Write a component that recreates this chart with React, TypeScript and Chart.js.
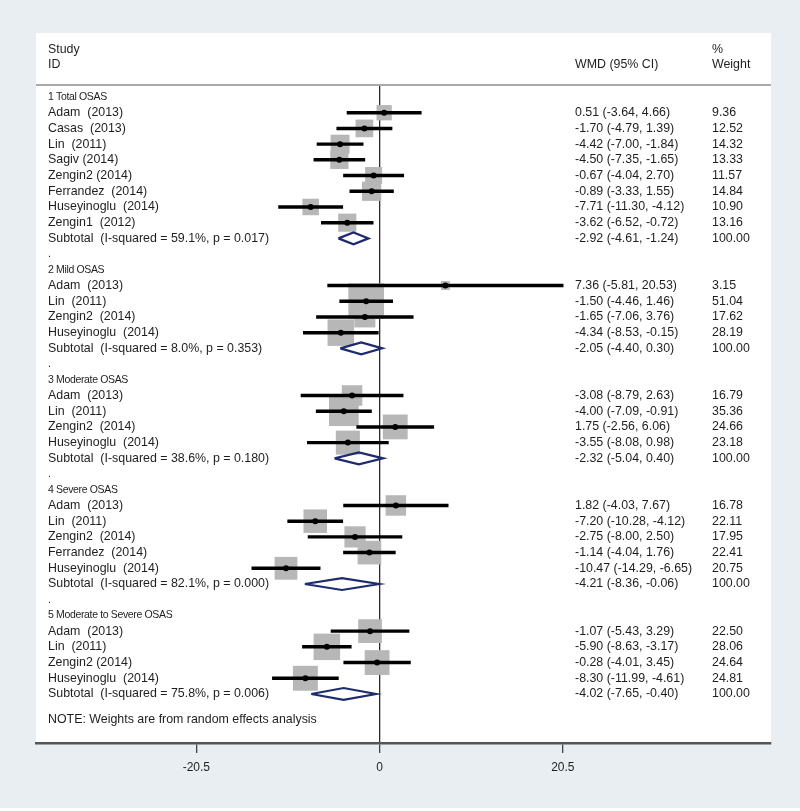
import React, { useEffect, useRef } from "react";
import { Chart, registerables } from "chart.js";

Chart.register(...registerables);

// ---------------- DATA ----------------
const groupTitles = [
  "1 Total OSAS",
  "2 Mild OSAS",
  "3 Moderate OSAS",
  "4 Severe OSAS",
  "5 Moderate to Severe OSAS",
];

const studyNames = [
  ["Adam  (2013)", "Casas  (2013)", "Lin  (2011)", "Sagiv (2014)", "Zengin2 (2014)", "Ferrandez  (2014)", "Huseyinoglu  (2014)", "Zengin1  (2012)"],
  ["Adam  (2013)", "Lin  (2011)", "Zengin2  (2014)", "Huseyinoglu  (2014)"],
  ["Adam  (2013)", "Lin  (2011)", "Zengin2  (2014)", "Huseyinoglu  (2014)"],
  ["Adam  (2013)", "Lin  (2011)", "Zengin2  (2014)", "Ferrandez  (2014)", "Huseyinoglu  (2014)"],
  ["Adam  (2013)", "Lin  (2011)", "Zengin2 (2014)", "Huseyinoglu  (2014)"],
];

const studyEstimates = [
  [0.51, -1.7, -4.42, -4.5, -0.67, -0.89, -7.71, -3.62],
  [7.36, -1.5, -1.65, -4.34],
  [-3.08, -4.0, 1.75, -3.55],
  [1.82, -7.2, -2.75, -1.14, -10.47],
  [-1.07, -5.9, -0.28, -8.3],
];

const studyLower = [
  [-3.64, -4.79, -7.0, -7.35, -4.04, -3.33, -11.3, -6.52],
  [-5.81, -4.46, -7.06, -8.53],
  [-8.79, -7.09, -2.56, -8.08],
  [-4.03, -10.28, -8.0, -4.04, -14.29],
  [-5.43, -8.63, -4.01, -11.99],
];

const studyUpper = [
  [4.66, 1.39, -1.84, -1.65, 2.7, 1.55, -4.12, -0.72],
  [20.53, 1.46, 3.76, -0.15],
  [2.63, -0.91, 6.06, 0.98],
  [7.67, -4.12, 2.5, 1.76, -6.65],
  [3.29, -3.17, 3.45, -4.61],
];

const studyWeights = [
  [9.36, 12.52, 14.32, 13.33, 11.57, 14.84, 10.9, 13.16],
  [3.15, 51.04, 17.62, 28.19],
  [16.79, 35.36, 24.66, 23.18],
  [16.78, 22.11, 17.95, 22.41, 20.75],
  [22.5, 28.06, 24.64, 24.81],
];

const subtotalISquared = [59.1, 8.0, 38.6, 82.1, 75.8];
const subtotalP = [0.017, 0.353, 0.18, 0.0, 0.006];
const subtotalEstimates = [-2.92, -2.05, -2.32, -4.21, -4.02];
const subtotalLower = [-4.61, -4.4, -5.04, -8.36, -7.65];
const subtotalUpper = [-1.24, 0.3, 0.4, -0.06, -0.4];
const subtotalWeight = 100;

const axisTicks = [-20.5, 0, 20.5];
const noteText = "NOTE: Weights are from random effects analysis";
const headerStudy = ["Study", "ID"];
const headerEffect = "WMD (95% CI)";
const headerWeight = ["%", "Weight"];

// ---------------- LAYOUT / STYLE ----------------
const W = 800;
const H = 811;
const PANEL_TOP = 33;
const AREA_LEFT = 36;
const AREA_RIGHT = 771;
const AREA_TOP = 86;
const AREA_BOTTOM = 743;
const ZERO_PX = 379.6;
const PX_PER_UNIT = 8.94;
const X_MIN = (AREA_LEFT - ZERO_PX) / PX_PER_UNIT;
const X_MAX = (AREA_RIGHT - ZERO_PX) / PX_PER_UNIT;
const ROW0_PX = 97;
const ROW_PX = 15.71;
const Y_MIN = -(ROW0_PX - AREA_TOP) / ROW_PX;
const Y_MAX = (AREA_BOTTOM - ROW0_PX) / ROW_PX;
const COL_LABEL = 48;
const COL_EFFECT = 575;
const COL_WEIGHT = 712;
const BOX_K = 5.0;
const DIAMOND_HALF = 0.38;
const FONT = "'Liberation Sans', Arial, sans-serif";
const TEXT_SIZE = 12.4;
const TEXT_COLOR = "#1e1e1e";
const NAVY = "#1d2b6e";

type Row = {
  kind: "head" | "study" | "sub" | "dot";
  row: number;
  label: string;
  est?: number;
  lo?: number;
  hi?: number;
  w?: number;
};

const fmtCI = (e: number, l: number, h: number) =>
  `${e.toFixed(2)} (${l.toFixed(2)}, ${h.toFixed(2)})`;

function buildRows() {
  const rows: Row[] = [];
  let r = 0;
  groupTitles.forEach((title, gi) => {
    rows.push({ kind: "head", row: r++, label: title });
    studyNames[gi].forEach((name, si) => {
      rows.push({
        kind: "study",
        row: r++,
        label: name,
        est: studyEstimates[gi][si],
        lo: studyLower[gi][si],
        hi: studyUpper[gi][si],
        w: studyWeights[gi][si],
      });
    });
    rows.push({
      kind: "sub",
      row: r++,
      label: `Subtotal  (I-squared = ${subtotalISquared[gi].toFixed(1)}%, p = ${subtotalP[gi].toFixed(3)})`,
      est: subtotalEstimates[gi],
      lo: subtotalLower[gi],
      hi: subtotalUpper[gi],
      w: subtotalWeight,
    });
    if (gi < groupTitles.length - 1) rows.push({ kind: "dot", row: r++, label: "." });
  });
  return { rows, noteRow: r + 0.6 };
}

export default function App() {
  const ref = useRef<HTMLCanvasElement>(null);

  useEffect(() => {
    document.body.style.margin = "0";
    const { rows, noteRow } = buildRows();
    const studies = rows.filter((r) => r.kind === "study");
    const subs = rows.filter((r) => r.kind === "sub");

    const textPlugin = {
      id: "forestText",
      beforeDraw(chart: any) {
        const ctx = chart.ctx as CanvasRenderingContext2D;
        const ca = chart.chartArea;
        ctx.save();
        ctx.fillStyle = "#ffffff";
        ctx.fillRect(0, 0, W, H);
        ctx.fillStyle = "#e8eef2";
        ctx.fillRect(0, 0, W, 808);
        ctx.fillStyle = "#ffffff";
        ctx.fillRect(ca.left, PANEL_TOP, ca.right - ca.left, ca.bottom - PANEL_TOP);
        ctx.strokeStyle = "#8c8c8c";
        ctx.lineWidth = 1.5;
        ctx.beginPath();
        ctx.moveTo(ca.left, ca.top - 1);
        ctx.lineTo(ca.right, ca.top - 1);
        ctx.stroke();
        ctx.restore();
      },
      afterDraw(chart: any) {
        const ctx = chart.ctx as CanvasRenderingContext2D;
        const ys = chart.scales.y;
        ctx.save();
        ctx.fillStyle = TEXT_COLOR;
        ctx.textBaseline = "middle";
        ctx.textAlign = "left";
        ctx.font = `${TEXT_SIZE}px ${FONT}`;
        // header
        ctx.fillText(headerStudy[0], COL_LABEL, 50);
        ctx.fillText(headerStudy[1], COL_LABEL, 65);
        ctx.fillText(headerEffect, COL_EFFECT, 65);
        ctx.fillText(headerWeight[0], COL_WEIGHT, 50);
        ctx.fillText(headerWeight[1], COL_WEIGHT, 65);
        rows.forEach((r) => {
          const y = ys.getPixelForValue(r.row);
          if (r.kind === "head" || r.kind === "dot") {
            ctx.font = `10.5px ${FONT}`;
            (ctx as any).letterSpacing = "-0.35px";
            ctx.fillText(r.label, COL_LABEL, y);
            (ctx as any).letterSpacing = "0px";
          } else {
            ctx.font = `${TEXT_SIZE}px ${FONT}`;
            ctx.fillText(r.label, COL_LABEL, y);
            ctx.fillText(fmtCI(r.est!, r.lo!, r.hi!), COL_EFFECT, y);
            ctx.fillText(r.w!.toFixed(2), COL_WEIGHT, y);
          }
        });
        ctx.font = `${TEXT_SIZE}px ${FONT}`;
        ctx.fillText(noteText, COL_LABEL, ys.getPixelForValue(noteRow));
        ctx.restore();
      },
    };

    const datasets: any[] = [
      {
        type: "scatter",
        label: "boxes",
        data: studies.map((s) => ({ x: s.est, y: s.row, w: s.w })),
        pointStyle: "rect",
        pointRadius: (c: any) => (c.raw ? (BOX_K * Math.sqrt(c.raw.w)) / Math.SQRT2 : 0),
        backgroundColor: "#b7b7b7",
        borderWidth: 0,
        order: 5,
      },
      {
        type: "bar",
        label: "ci",
        indexAxis: "y",
        data: studies.map((s) => ({ x: [s.lo, s.hi], y: s.row })),
        backgroundColor: "#000000",
        borderWidth: 0,
        barThickness: 2.8,
        order: 4,
      },
      ...subs.map((s) => ({
        type: "scatter",
        label: "diamond",
        showLine: true,
        data: [
          { x: s.lo, y: s.row },
          { x: s.est, y: s.row - DIAMOND_HALF },
          { x: s.hi, y: s.row },
          { x: s.est, y: s.row + DIAMOND_HALF },
          { x: s.lo, y: s.row },
        ],
        borderColor: NAVY,
        borderWidth: 2.2,
        pointRadius: 0,
        fill: false,
        tension: 0,
        order: 3,
      })),
      {
        type: "scatter",
        label: "points",
        data: studies.map((s) => ({ x: s.est, y: s.row })),
        pointStyle: "circle",
        pointRadius: 3,
        backgroundColor: "#000000",
        borderWidth: 0,
        order: 1,
      },
    ];

    const chart = new Chart(ref.current!, {
      type: "scatter",
      data: { datasets },
      plugins: [textPlugin],
      options: {
        animation: false,
        responsive: false,
        devicePixelRatio: 1,
        events: [],
        layout: {
          padding: { left: AREA_LEFT, right: W - AREA_RIGHT, top: AREA_TOP, bottom: 0 },
        },
        plugins: {
          legend: { display: false },
          tooltip: { enabled: false },
        },
        scales: {
          x: {
            type: "linear",
            min: X_MIN,
            max: X_MAX,
            offset: false,
            z: 1,
            afterBuildTicks: (s: any) => {
              s.ticks = axisTicks.map((v) => ({ value: v }));
            },
            afterFit: (s: any) => {
              s.height = H - AREA_BOTTOM;
            },
            ticks: {
              autoSkip: false,
              maxRotation: 0,
              padding: 7,
              color: TEXT_COLOR,
              font: { family: FONT, size: 12 },
              callback: (v: any) => String(v),
            },
            grid: {
              offset: false,
              drawOnChartArea: true,
              color: (c: any) => (c.tick && c.tick.value === 0 ? "#2a2a2a" : "rgba(0,0,0,0)"),
              lineWidth: 1.3,
              tickLength: 10,
              tickColor: "#444444",
              tickWidth: 1.3,
            },
            border: { display: true, color: "#555555", width: 2.5 },
          },
          y: {
            type: "linear",
            display: false,
            reverse: true,
            offset: false,
            grid: { offset: false },
            min: Y_MIN,
            max: Y_MAX,
          },
        },
      } as any,
    });
    return () => chart.destroy();
  }, []);

  return (
    <div style={{ width: W, height: H }}>
      <canvas ref={ref} width={W} height={H} style={{ display: "block", width: W, height: H }} />
    </div>
  );
}
